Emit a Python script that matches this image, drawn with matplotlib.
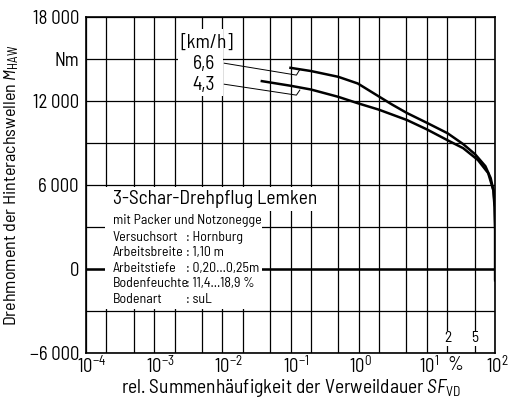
# Drehmoment der Hinterachswellen vs. rel. Summenhaeufigkeit der Verweildauer

import numpy as np
import matplotlib.pyplot as plt
import matplotlib.transforms as mtrans
from matplotlib.patches import Rectangle

FONT = 'Barlow Semi Condensed'
plt.rcParams['font.family'] = [FONT, 'DejaVu Sans']
plt.rcParams['mathtext.fontset'] = 'custom'
plt.rcParams['mathtext.rm'] = FONT
plt.rcParams['mathtext.it'] = FONT + ':italic'

# Kurven (Fahrgeschwindigkeit in km/h)
x_66 = [0.1, 0.2, 0.5, 0.97, 1.95, 3.1, 5.1, 10, 20, 34, 51, 72, 86, 95, 99, 100, 100]
y_66 = [14380, 14150, 13740, 13260, 12350, 11750, 11150, 10450, 9710, 8930, 8200,
        7350, 6500, 5550, 4430, 2800, -700]
x_43 = [0.038, 0.1, 0.2, 0.5, 0.97, 1.95, 5.1, 10, 20, 34, 56, 79, 94, 98, 100, 100]
y_43 = [13430, 13100, 12830, 12310, 11850, 11400, 10650, 9980, 9210, 8640, 7790, 6860,
        5640, 4430, 2800, -800]

yticks = [-6000, -3000, 0, 3000, 6000, 9000, 12000, 15000, 18000]
ylabels = ['\u22126\u2009000', '', '0', '', '6\u2009000', '', '12\u2009000', 'Nm', '18\u2009000']
xdecades = [1e-4, 1e-3, 1e-2, 1e-1, 1e0, 1e1, 1e2]
xlabels = [r'$\mathregular{10^{-4}}$', r'$\mathregular{10^{-3}}$', r'$\mathregular{10^{-2}}$',
           r'$\mathregular{10^{-1}}$', r'$\mathregular{10^{0}}$', r'$\mathregular{10^{1}}$',
           r'$\mathregular{10^{2}}$']

info_keys = ['Versuchsort', 'Arbeitsbreite', 'Arbeitstiefe', 'Bodenfeuchte', 'Bodenart']
info_vals = [': Hornburg', ': 1,10 m', ': 0,20...0,25m', ': 11,4...18,9 %', ': suL']

fig = plt.figure(figsize=(5.11, 3.99), dpi=100)
ax = fig.add_axes([0.168, 0.115, 0.801, 0.842])
ax.set_xscale('log')
ax.set_xlim(1e-4, 1e2)
ax.set_ylim(-6000, 18000)

minor = [m * d for d in xdecades[:-1] for m in (2, 5)]
ax.set_xticks(xdecades)
ax.set_xticklabels(xlabels, fontsize=13.5)
ax.set_xticks(minor, minor=True)
ax.set_xticklabels([], minor=True)
ax.set_yticks(yticks)
ax.set_yticklabels(ylabels, fontsize=13.5)
ax.tick_params(which='both', length=0)
ax.tick_params(axis='x', pad=2)
ax.tick_params(axis='y', pad=5)
# Exponenten-Beschriftungen etwas nach rechts wie im Original
for lab, d in zip(ax.get_xticklabels(), xdecades):
    dx = 6 if d < 1 else 2
    lab.set_transform(lab.get_transform() + mtrans.ScaledTranslation(dx / 100, 0, fig.dpi_scale_trans))
ax.set_axisbelow(True)
ax.grid(True, which='both', color='black', lw=0.9)
for s in ax.spines.values():
    s.set_linewidth(1.2)
ax.axhline(0, color='black', lw=1.8, zorder=0.8)

# weisse Felder fuer Texte
ax.add_patch(Rectangle((0.046, 0.423), 0.51, 0.071, transform=ax.transAxes,
                       facecolor='white', edgecolor='none', zorder=1))
ax.add_patch(Rectangle((0.046, 0.131), 0.385, 0.293, transform=ax.transAxes,
                       facecolor='white', edgecolor='none', zorder=1))
ax.add_patch(Rectangle((0.225, 0.765), 0.11, 0.2, transform=ax.transAxes,
                       facecolor='white', edgecolor='none', zorder=1))

ax.plot(x_66, y_66, color='black', lw=1.8, zorder=2)
ax.plot(x_43, y_43, color='black', lw=1.8, zorder=2)

# Legende mit Hinweislinien
ax.text(0.296, 0.925, '[km/h]', transform=ax.transAxes, ha='center', va='center', fontsize=14)
ax.text(0.316, 0.86, '6,6', transform=ax.transAxes, ha='right', va='center', fontsize=14)
ax.text(0.316, 0.797, '4,3', transform=ax.transAxes, ha='right', va='center', fontsize=14)
ax.plot([0.0107, 0.122, 0.135], [14710, 13860, 14210], color='black', lw=0.7, zorder=2)
ax.plot([0.0107, 0.122, 0.137], [13210, 12430, 12790], color='black', lw=0.7, zorder=2)

# Versuchsbedingungen
ax.text(0.066, 0.458, '3-Schar-Drehpflug Lemken', transform=ax.transAxes,
        ha='left', va='center', fontsize=14, zorder=3)
ax.text(0.066, 0.395, 'mit Packer und Notzonegge', transform=ax.transAxes,
        ha='left', va='center', fontsize=10, zorder=3)
for i, (k, v) in enumerate(zip(info_keys, info_vals)):
    yy = 0.345 - i * 0.046
    ax.text(0.066, yy, k, transform=ax.transAxes, ha='left', va='center', fontsize=10, zorder=3)
    ax.text(0.245, yy, v, transform=ax.transAxes, ha='left', va='center', fontsize=10, zorder=3)

# Prozent-Markierungen
for val, lab in zip([20, 50], ['2', '5']):
    ax.text(val, -4950, lab, ha='center', va='center', fontsize=11, zorder=3,
            bbox=dict(facecolor='white', edgecolor='none', pad=0.5))
ax.text(26, -0.01, '%', transform=ax.get_xaxis_transform(), ha='center', va='top',
        fontsize=14, zorder=3)

ax.set_xlabel(r'rel. Summenhäufigkeit der Verweildauer $\mathit{SF}_{\mathrm{VD}}$',
              fontsize=14, labelpad=0)
ax.set_ylabel(r'Drehmoment der Hinterachswellen $\mathit{M}_{\mathrm{HAW}}$',
              fontsize=13, labelpad=6)

fig.savefig('out.png', dpi=100)
